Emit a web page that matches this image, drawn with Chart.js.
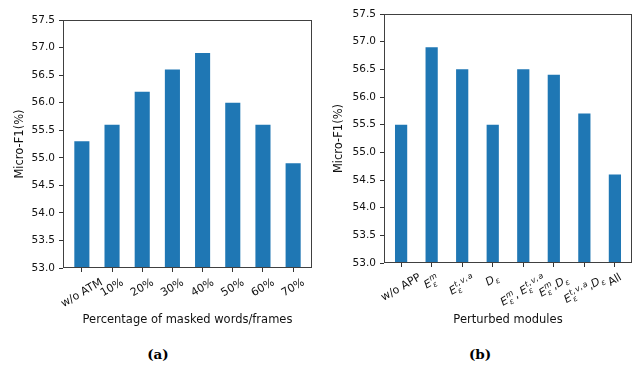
<!DOCTYPE html>
<html>
<head>
<meta charset="utf-8">
<script src="https://cdn.jsdelivr.net/npm/chart.js@4.4.1/dist/chart.umd.min.js"></script>
<style>
  body { margin: 0; background: #fff; }
  #wrap { position: relative; width: 637px; height: 366px; overflow: hidden; }
  canvas { position: absolute; top: 0; }
  .cap { position: absolute; top: 346px; width: 60px; margin-left: -30px; text-align: center;
         font: bold 13.5px "DejaVu Serif", serif; color: #000; }
</style>
</head>
<body>
<div id="wrap">
  <canvas id="chartA" width="320" height="335" style="left:0"></canvas>
  <canvas id="chartB" width="317" height="335" style="left:320px"></canvas>
  <div class="cap" style="left:158px">(a)</div>
  <div class="cap" style="left:480px">(b)</div>
</div>
<script>
// data
const maskCategories = ['w/o ATM', '10%', '20%', '30%', '40%', '50%', '60%', '70%'];
const maskValues = [55.3, 55.6, 56.2, 56.6, 56.9, 56.0, 55.6, 54.9];

// $...$ marks math parts: _ subscript, ^ superscript
const moduleCategories = ['w/o APP', '$E_ε^m$', '$E_ε^{t,v,a}$', '$D_ε$',
    '$E_ε^m$, $E_ε^{t,v,a}$', '$E_ε^m$,$D_ε$', '$E_ε^{t,v,a}$,$D_ε$', 'All'];
const moduleValues = [55.5, 56.9, 56.5, 55.5, 56.5, 56.4, 55.7, 54.6];

const yTickValues = [53.0, 53.5, 54.0, 54.5, 55.0, 55.5, 56.0, 56.5, 57.0, 57.5];
const yLabel = 'Micro-F1(%)';

const FONT = '"DejaVu Sans"';
const FS = 11;            // x tick label size
const SS = 8;             // script size
const BASE = FS + 'px ' + FONT;
const ITAL = 'italic ' + FS + 'px ' + FONT;
const SCRIPT = 'italic ' + SS + 'px ' + FONT;
const SCRIPT_UP = SS + 'px ' + FONT;
const TITLE = '11.5px ' + FONT;

// break a label into positioned pieces of text
function layoutLabel(ctx, label) {
    const items = [];
    let x = 0, top = -0.76 * FS, bottom = 0.24 * FS;
    const parts = label.split('$');
    parts.forEach((part, k) => {
        if (k % 2 === 0) {
            if (!part) return;
            ctx.font = BASE;
            items.push({ text: part, font: BASE, x: x, y: 0 });
            x += ctx.measureText(part).width;
            return;
        }
        let i = 0, block = null;
        while (i < part.length) {
            const c = part[i];
            if (c === '_' || c === '^') {
                i++;
                let arg;
                if (part[i] === '{') {
                    const j = part.indexOf('}', i);
                    arg = part.slice(i + 1, j);
                    i = j + 1;
                } else {
                    arg = part[i];
                    i++;
                }
                if (!block) block = { x: x, w: 0 };
                let sx = block.x + 0.5;
                const y = c === '_' ? 0.26 * FS : -0.42 * FS;
                for (const ch of arg) {
                    const f = /[A-Za-zε]/.test(ch) ? SCRIPT : SCRIPT_UP;
                    ctx.font = f;
                    items.push({ text: ch, font: f, x: sx, y: y });
                    sx += ctx.measureText(ch).width + (ch === ',' ? 1.2 : 0);
                }
                block.w = Math.max(block.w, sx - block.x);
                x = block.x + block.w;
                if (c === '_') bottom = Math.max(bottom, 0.42 * FS);
                else top = Math.min(top, -0.95 * FS);
                continue;
            }
            block = null;
            if (c !== ' ') {
                const f = /[A-Za-zε]/.test(c) ? ITAL : BASE;
                ctx.font = f;
                items.push({ text: c, font: f, x: x, y: 0 });
                x += ctx.measureText(c).width;
                block = { x: x, w: 0 };
            }
            i++;
        }
    });
    return { items: items, width: x, top: top, bottom: bottom };
}

const decoPlugin = {
    id: 'deco',
    afterDraw(chart, args, opts) {
        const ctx = chart.ctx;
        const a = chart.chartArea;
        const xs = chart.scales.x;
        ctx.save();
        // frame on all four sides
        ctx.strokeStyle = '#404040';
        ctx.lineWidth = 1;
        ctx.strokeRect(a.left + 0.5, a.top + 0.5, a.right - a.left - 1, a.bottom - a.top - 1);

        // rotated tick labels, centred under the tick like matplotlib
        const rad = Math.PI / 6;
        ctx.fillStyle = '#111';
        ctx.textAlign = 'left';
        ctx.textBaseline = 'alphabetic';
        opts.labels.forEach((lab, i) => {
            const L = layoutLabel(ctx, lab);
            const h = L.bottom - L.top;
            const bh = L.width * Math.sin(rad) + h * Math.cos(rad);
            const cx = xs.getPixelForValue(i);
            const cy = a.bottom + 9 + bh / 2;
            ctx.save();
            ctx.translate(cx, cy);
            ctx.rotate(-rad);
            const ox = -L.width / 2, oy = -(L.top + L.bottom) / 2;
            L.items.forEach(it => {
                ctx.font = it.font;
                ctx.fillText(it.text, ox + it.x, oy + it.y);
            });
            ctx.restore();
        });

        // axis titles
        ctx.font = TITLE;
        ctx.textAlign = 'center';
        ctx.textBaseline = 'middle';
        ctx.fillText(opts.xTitle, (a.left + a.right) / 2, 320);
        ctx.save();
        ctx.translate(opts.yTitleX, (a.top + a.bottom) / 2);
        ctx.rotate(-Math.PI / 2);
        ctx.fillText(yLabel, 0, 0);
        ctx.restore();
        ctx.restore();
    }
};

function createBarChart(id, categories, values, cfg) {
    const ctx = document.getElementById(id).getContext('2d');
    return new Chart(ctx, {
        type: 'bar',
        data: {
            datasets: [{
                data: values.map((v, i) => ({ x: i, y: v })),
                backgroundColor: '#1f77b4',
                borderWidth: 0,
                barPercentage: cfg.barWidth,
                categoryPercentage: 1,
            }]
        },
        options: {
            responsive: false,
            animation: false,
            events: [],
            layout: { padding: { top: cfg.top, right: cfg.right, left: 0, bottom: 0 } },
            plugins: {
                legend: { display: false },
                tooltip: { enabled: false },
                deco: { labels: categories, xTitle: cfg.xTitle, yTitleX: cfg.yTitleX },
            },
            scales: {
                x: {
                    type: 'linear',
                    min: cfg.xMin,
                    max: cfg.xMax,
                    offset: false,
                    afterBuildTicks: s => { s.ticks = categories.map((c, i) => ({ value: i })); },
                    afterFit: s => { s.height = cfg.xHeight; },
                    ticks: { display: false },
                    grid: { drawOnChartArea: false, offset: false, tickLength: 4, color: '#333' },
                    border: { display: false },
                },
                y: {
                    min: 53,
                    max: 57.5,
                    afterBuildTicks: s => { s.ticks = yTickValues.map(v => ({ value: v })); },
                    afterFit: s => { s.width = cfg.yWidth; },
                    ticks: {
                        callback: v => v.toFixed(1),
                        color: '#111',
                        font: { family: 'DejaVu Sans', size: 10.5 },
                        padding: 4,
                    },
                    grid: { drawOnChartArea: false, tickLength: 4, color: '#333' },
                    border: { display: false },
                }
            }
        },
        plugins: [decoPlugin]
    });
}

createBarChart('chartA', maskCategories, maskValues, {
    xMin: -0.625, xMax: 7.625, barWidth: 0.5,
    top: 20, right: 8, yWidth: 63, xHeight: 67,
    xTitle: 'Percentage of masked words/frames', yTitleX: 20,
});
createBarChart('chartB', moduleCategories, moduleValues, {
    xMin: -0.56, xMax: 7.56, barWidth: 0.4,
    top: 14, right: 5, yWidth: 64, xHeight: 72,
    xTitle: 'Perturbed modules', yTitleX: 19,
});
</script>
</body>
</html>
